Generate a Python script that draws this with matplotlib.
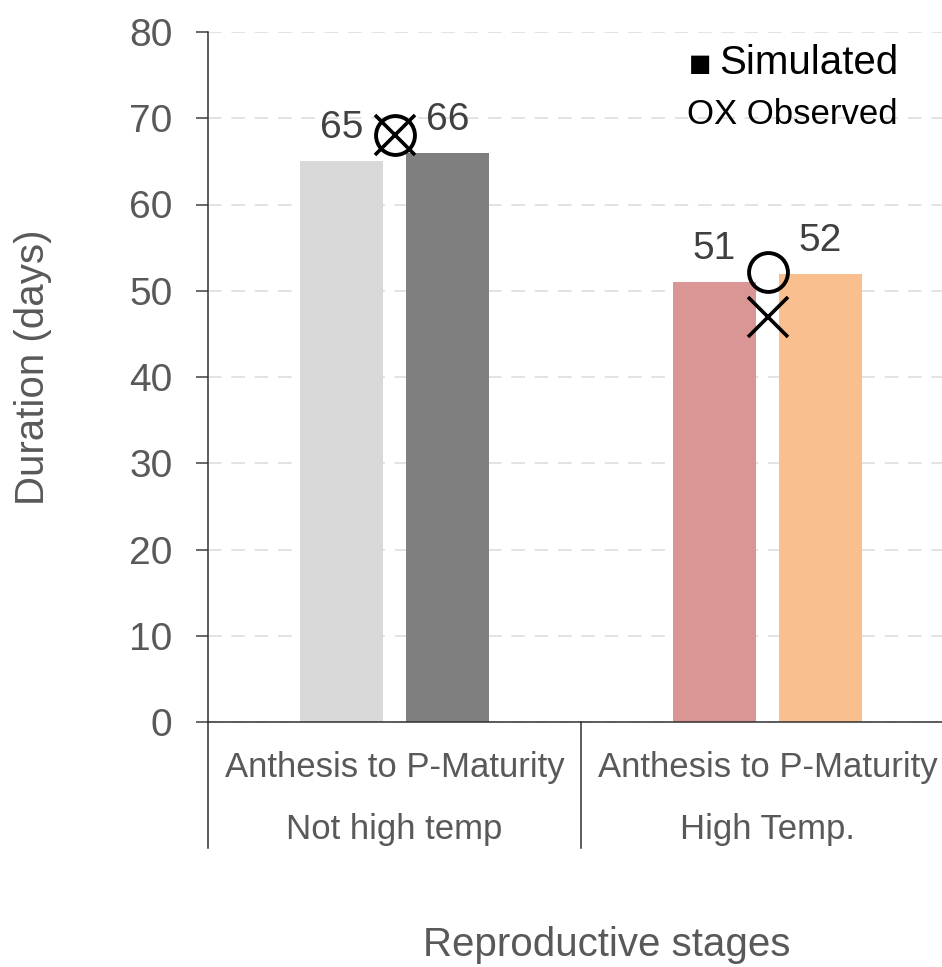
import matplotlib.pyplot as plt
import matplotlib.transforms as mtransforms

plt.rcParams['font.family'] = ['Liberation Sans', 'DejaVu Sans']

stages = ["Anthesis to P-Maturity", "Anthesis to P-Maturity"]
conditions = ["Not high temp", "High Temp."]
sim_a = [65, 51]          # first bar in each group
sim_b = [66, 52]          # second bar in each group
obs_circle = [68.1, 52.2]
obs_cross = [68.1, 46.9]
colors_a = ["#d9d9d9", "#d99694"]
colors_b = ["#7f7f7f", "#f9bf8f"]

txt = "#595959"
fig = plt.figure(figsize=(9.42, 9.67), dpi=100)
ax = fig.add_axes([208 / 942, 1 - 722 / 967, 746 / 942, 690 / 967])

x = [0, 1]
off = 0.142
w = 0.2225
ax.bar([i - off for i in x], sim_a, width=w, color=colors_a, zorder=2)
ax.bar([i + off for i in x], sim_b, width=w, color=colors_b, zorder=2)

for i in x:
    for xx, v in ((i - off, sim_a[i]), (i + off, sim_b[i])):
        ax.annotate(f"{v}", (xx, v), xytext=(0, 16.5), textcoords="offset points",
                    ha="center", va="baseline", fontsize=28, color="#404040")

ax.plot(x, obs_circle, ls="none", marker="o", ms=28, mfc="none", mec="black", mew=2.8, zorder=4)
ax.plot(x, obs_cross, ls="none", marker="x", ms=29, mec="black", mew=2.6, zorder=4)

ax.set_xlim(-0.5, 1.5)
ax.set_ylim(0, 80)
ax.set_yticks(range(0, 81, 10))
ax.tick_params(axis="y", direction="out", length=8.6, width=1.1, color="#404040",
               labelsize=28, labelcolor=txt, pad=17)
ax.set_xticks([])
ax.yaxis.grid(True, color="#e3e3e3", ls=(0, (7, 5)), lw=1.4, zorder=0)
ax.set_axisbelow(True)
for s in ("top", "right"):
    ax.spines[s].set_visible(False)
for s in ("left", "bottom"):
    ax.spines[s].set_color("#303030")
    ax.spines[s].set_linewidth(1.1)

# category separators and labels below the axis
trans = mtransforms.blended_transform_factory(ax.transData, ax.transAxes)
depth = -(848 - 722) / 690
for xs in (-0.5, 0.5, 1.5):
    ax.plot([xs, xs], [0, depth], color="#303030", lw=1.1, transform=trans, clip_on=False)
for i in x:
    ax.text(i, -(767 - 722) / 690, stages[i], transform=trans, ha="center", va="center",
            fontsize=25, color=txt)
    ax.text(i, -(830 - 722) / 690, conditions[i], transform=trans, ha="center", va="center",
            fontsize=25, color=txt)

fig.text(33 / 942, 1 - 367 / 967, "Duration (days)", rotation=90, ha="center", va="center",
         fontsize=29, color=txt)
fig.text(607 / 942, 1 - 945 / 967, "Reproductive stages", ha="center", va="center",
         fontsize=29, color=txt)

# legend text
fig.text(689 / 942, 1 - 64 / 967, "\u25a0", ha="left", va="center", fontsize=17,
         color="black", family=["DejaVu Sans"])
fig.text(719 / 942, 1 - 63 / 967, "Simulated", ha="left", va="center", fontsize=29, color="black")
fig.text(687 / 942, 1 - 115 / 967, "OX Observed", ha="left", va="center", fontsize=25, color="black")

fig.savefig("out.png", dpi=100)
